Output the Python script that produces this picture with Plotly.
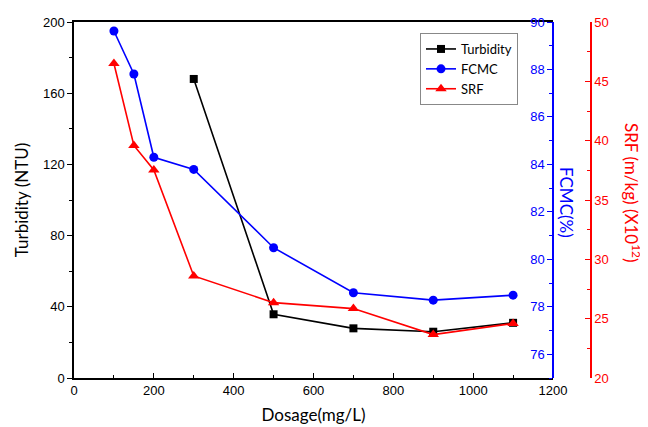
import plotly.graph_objects as go

dosage_turb = [300, 500, 700, 900, 1100]
turbidity = [168, 35.8, 27.9, 26, 31]

dosage = [100, 150, 200, 300, 500, 700, 900, 1100]
fcmc = [89.62, 87.81, 84.3, 83.79, 80.49, 78.59, 78.28, 78.49]
srf = [46.5, 39.6, 37.53, 28.6, 26.35, 25.85, 23.66, 24.6]

x_ticks = [0, 200, 400, 600, 800, 1000, 1200]

# page body has an 8px margin; compensate
W, H = 640, 419
L, R, T, B = 66, 10, 14, 49
pw = W - L - R
ph = H - T - B
dx = 479 / pw
pos3 = (591 - 74) / pw

fig = go.Figure()
fig.add_trace(go.Scatter(x=dosage_turb, y=turbidity, name="Turbidity", mode="lines+markers",
                         line=dict(color="black", width=1.6),
                         marker=dict(symbol="square", size=8, color="black"), yaxis="y"))
fig.add_trace(go.Scatter(x=dosage, y=fcmc, name="FCMC", mode="lines+markers",
                         line=dict(color="blue", width=1.6),
                         marker=dict(symbol="circle", size=9, color="blue"), yaxis="y2"))
fig.add_trace(go.Scatter(x=dosage, y=srf, name="SRF", mode="lines+markers",
                         line=dict(color="red", width=1.6),
                         marker=dict(symbol="triangle-up", size=10, color="red"), yaxis="y3"))

tickfont = dict(family="Liberation Sans, Arial", size=13, color="black")
titlefont = dict(family="Lato, Liberation Sans", size=17, color="black")

fig.update_layout(
    width=W, height=H,
    margin=dict(l=L, r=R, t=T, b=B, autoexpand=False),
    plot_bgcolor="white", paper_bgcolor="white",
    showlegend=True,
    legend=dict(x=(420 - 74) / pw, y=(378 - 33) / ph, xanchor="left", yanchor="top",
                bordercolor="#888", borderwidth=1, bgcolor="white",
                font=dict(family="Lato, Liberation Sans", size=13, color="black"),
                tracegroupgap=0, itemwidth=30),
    xaxis=dict(domain=[0, dx], range=[0, 1200], tickvals=x_ticks, automargin=False,
               ticks="inside", ticklen=5, tickcolor="black",
               minor=dict(dtick=100, tick0=0, ticks="inside", ticklen=3, tickcolor="black"),
               showline=True, linecolor="black", linewidth=1.5, mirror=True,
               showgrid=False, zeroline=False, tickfont=tickfont,
               title=dict(text="Dosage(mg/L)", font=titlefont, standoff=12)),
    yaxis=dict(range=[0, 200], dtick=40, tick0=0, automargin=False,
               ticks="outside", ticklen=5, tickcolor="black",
               minor=dict(dtick=20, tick0=0, ticks="outside", ticklen=3, tickcolor="black"),
               showline=True, linecolor="black", linewidth=1.5,
               showgrid=False, zeroline=False, tickfont=tickfont,
               title=dict(text="Turbidity (NTU)", font=titlefont, standoff=10)),
    yaxis2=dict(range=[75, 90], tickvals=[76, 78, 80, 82, 84, 86, 88, 90],
                overlaying="y", side="left", anchor="free", position=dx, automargin=False,
                ticks="outside", ticklen=5, tickcolor="blue",
                minor=dict(dtick=1, tick0=75, ticks="outside", ticklen=3, tickcolor="blue"),
                showline=True, linecolor="blue", linewidth=1.5,
                showgrid=False, zeroline=False,
                tickfont=dict(family="Liberation Sans, Arial", size=13, color="blue")),
    yaxis3=dict(range=[20, 50], dtick=5, tick0=20, automargin=False,
                overlaying="y", side="right", anchor="free", position=pos3,
                ticks="inside", ticklen=5, tickcolor="red",
                minor=dict(dtick=2.5, tick0=20, ticks="inside", ticklen=3, tickcolor="red"),
                showline=True, linecolor="red", linewidth=1.5,
                showgrid=False, zeroline=False,
                tickfont=dict(family="Liberation Sans, Arial", size=13, color="red")),
    annotations=[
        dict(text="FCMC(%)", xref="paper", yref="paper", x=(567 - 74) / pw, y=(378 - 202) / ph,
             xanchor="center", yanchor="middle",
             showarrow=False, textangle=90, font=dict(family="Lato, Liberation Sans", size=17, color="blue")),
        dict(text="SRF (m/kg) (X10<sup>12</sup>)", xref="paper", yref="paper",
             x=(633 - 74) / pw, y=(378 - 193) / ph, xanchor="center", yanchor="middle",
             showarrow=False, textangle=90, font=dict(family="Lato, Liberation Sans", size=17, color="red")),
    ],
)

fig.write_html("out.html")
